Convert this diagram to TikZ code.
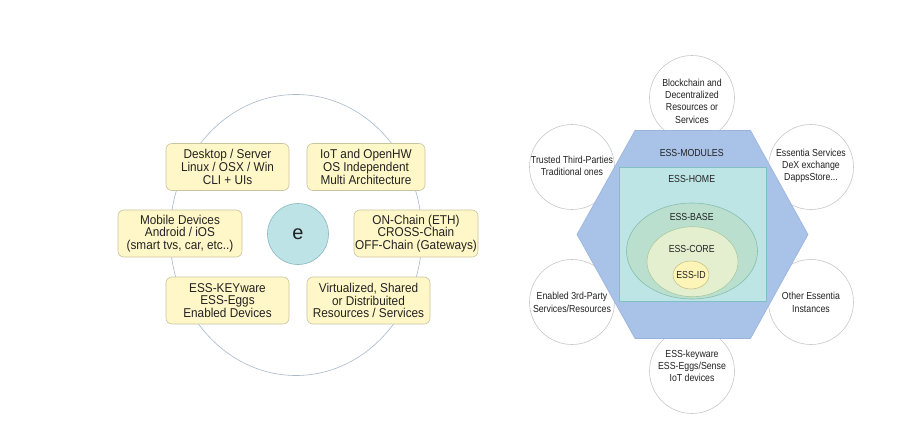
\documentclass[tikz,border=0pt]{standalone}
\usepackage{fontspec}
\setmainfont{Liberation Sans}
\newfontfamily\narrowfont[FakeStretch=0.86]{Liberation Sans}
\newfontfamily\boxfont[FakeStretch=0.92]{Liberation Sans}
\usetikzlibrary{shapes.geometric}
\definecolor{boxfill}{HTML}{FFF7C8}
\definecolor{boxline}{HTML}{C9C4A0}
\definecolor{efill}{HTML}{BDE3E6}
\definecolor{eline}{HTML}{8AB8C0}
\definecolor{ringline}{HTML}{A8B8C8}
\definecolor{hexfill}{HTML}{A9C3E8}
\definecolor{hexline}{HTML}{9AB3DB}
\definecolor{homefill}{HTML}{BEE5E5}
\definecolor{homeline}{HTML}{80BFC2}
\definecolor{basefill}{HTML}{BADFCF}
\definecolor{baseline}{HTML}{86BFAE}
\definecolor{corefill}{HTML}{E4EFD0}
\definecolor{coreline}{HTML}{A9C9A0}
\definecolor{idfill}{HTML}{FDF5B8}
\definecolor{idline}{HTML}{C9C08A}
\definecolor{outline}{HTML}{C8C8C8}
\definecolor{txt}{HTML}{222222}
\tikzset{
  ybox/.style={draw=boxline, fill=boxfill, rounded corners=6pt, line width=0.6pt,
    minimum width=123pt, minimum height=47pt, align=center, inner sep=0pt,
    font=\boxfont\fontsize{12.8}{12.6}\selectfont, text=txt},
  outc/.style={draw=outline, fill=white, circle, minimum size=85pt, line width=0.6pt,
    inner sep=0pt},
  rlab/.style={align=center, font=\narrowfont\fontsize{10.2}{12.3}\selectfont, text=txt, inner sep=0pt},
}
\begin{document}
\begin{tikzpicture}[x=1pt,y=-1pt]
\useasboundingbox (0,0) rectangle (911,439);
\fill[white] (0,0) rectangle (911,439);
% ---------- left diagram ----------
\node[draw=ringline, line width=0.6pt, ellipse, minimum width=252pt, minimum height=281pt, inner sep=0pt] (ring) at (296,235) {};
\node[ybox] (desk) at (227.5,167) {Desktop / Server\\Linux / OSX / Win\\CLI + UIs};
\node[ybox, minimum width=118pt] (iot) at (366,167) {IoT and OpenHW\\OS Independent\\Multi Architecture};
\node[ybox, minimum width=124pt] (mob) at (180,233.5) {Mobile Devices\\Android / iOS\\(smart tvs, car, etc..)};
\node[ybox, minimum width=124pt] (chain) at (416,233.5) {ON-Chain (ETH)\\CROSS-Chain\\OFF-Chain (Gateways)};
\node[ybox] (key) at (227.5,300.5) {ESS-KEYware\\ESS-Eggs\\Enabled Devices};
\node[ybox] (virt) at (368.5,300.5) {Virtualized, Shared\\or Distribuited\\Resources / Services};
\node[draw=eline, fill=efill, circle, minimum size=61pt, inner sep=0pt, line width=0.6pt,
  font=\fontsize{20}{20}\selectfont, text=txt] (e) at (298,234) {e};
% ---------- right diagram ----------
\node[outc] (c1) at (692,98) {};
\node[outc] (c2) at (572,167) {};
\node[outc] (c3) at (811,167) {};
\node[outc] (c4) at (572,302) {};
\node[outc] (c5) at (811,302) {};
\node[outc] (c6) at (692,371) {};
\draw[draw=hexline, fill=hexfill, line width=0.6pt] (635,130.5) -- (750.5,130.5) -- (808,234.5) -- (750.5,338.5) -- (635,338.5) -- (577,234.5) -- cycle;
\node[draw=homeline, fill=homefill, line width=0.6pt, minimum width=147pt, minimum height=134.5pt, inner sep=0pt] (home) at (692.3,234.3) {};
\node[draw=baseline, fill=basefill, ellipse, line width=0.6pt, minimum width=131pt, minimum height=96pt, inner sep=0pt] (base) at (692,251) {};
\node[draw=coreline, fill=corefill, ellipse, line width=0.6pt, minimum width=91pt, minimum height=70pt, inner sep=0pt] (core) at (692.5,261.7) {};
\node[draw=idline, fill=idfill, ellipse, line width=0.6pt, minimum width=36pt, minimum height=28pt, inner sep=0pt] (id) at (691,275) {};
\node[rlab] (lmod) at (691.7,152.7) {ESS-MODULES};
\node[rlab] (lhome) at (691.7,179.3) {ESS-HOME};
\node[rlab] (lbase) at (691.7,216.7) {ESS-BASE};
\node[rlab] (lcore) at (691.7,249) {ESS-CORE};
\node[rlab] (lid) at (id) {ESS-ID};
\node[rlab] (t1) at (692,101) {Blockchain and\\Decentralized\\Resources or\\Services};
\node[rlab] (t2) at (572,166) {Trusted Third-Parties\\Traditional ones};
\node[rlab] (t3) at (811,166) {Essentia Services\\DeX exchange\\DappsStore...};
\node[rlab] (t4) at (572,302.5) {Enabled 3rd-Party\\Services/Resources};
\node[rlab] (t5) at (811,302.5) {Other Essentia\\Instances};
\node[rlab] (t6) at (692,366) {ESS-keyware\\ESS-Eggs/Sense\\IoT devices};
\end{tikzpicture}
\end{document}
